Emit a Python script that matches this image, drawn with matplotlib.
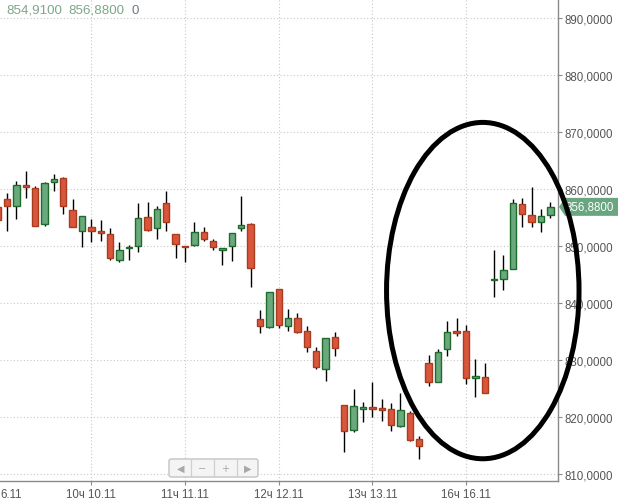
import matplotlib
matplotlib.use("Agg")
import matplotlib.pyplot as plt
import matplotlib.patches as mpatches
import matplotlib.transforms as mtransforms

plt.rcParams['font.family'] = ['Liberation Sans', 'DejaVu Sans']

# ---- data (hourly candles, index = position) ----
opens = [856.8, 858.3, 857.0, 860.8, 860.2, 853.8, 861.2, 862.0, 856.4, 852.6,
         853.3, 852.5, 852.1, 847.5, 849.6, 850.1, 855.1, 853.2, 857.6, 852.1,
         850.0, 850.2, 852.5, 850.9, 849.4, 850.0, 853.1, 853.9, 837.2, 835.8,
         842.5, 836.0, 837.4, 835.1, 831.6, 828.4, 834.0, 822.1, 817.7, 821.5,
         821.7, 821.5, 821.5, 818.5, 820.8, 816.1, 829.5, 826.1, 831.9, 835.0,
         835.2, 826.9, 827.1, 844.0, 844.3, 845.96, 857.4, 855.4, 854.3, 855.4]
highs = [857.6, 859.3, 861.5, 863.2, 860.5, 861.2, 862.7, 862.1, 858.3, 855.3,
         854.8, 854.6, 853.2, 850.8, 850.2, 857.6, 857.8, 857.0, 859.6, 852.1,
         850.0, 854.3, 853.4, 851.3, 849.7, 852.3, 858.7, 854.1, 838.8, 841.9,
         842.5, 839.0, 838.3, 836.0, 832.3, 833.9, 834.9, 822.1, 824.9, 822.6,
         826.2, 823.2, 822.5, 824.3, 821.0, 816.7, 830.9, 831.9, 836.8, 837.4,
         836.1, 830.2, 829.5, 849.3, 848.4, 858.2, 858.5, 860.3, 856.5, 857.7]
lows = [853.6, 852.6, 854.8, 858.5, 853.6, 853.6, 859.7, 855.6, 853.3, 849.8,
        850.8, 850.9, 847.5, 847.2, 847.5, 849.0, 852.7, 851.2, 852.6, 847.9,
        847.2, 850.1, 850.9, 849.4, 846.6, 847.3, 852.6, 842.9, 834.8, 835.6,
        835.7, 835.1, 834.7, 831.5, 828.4, 826.3, 830.8, 813.9, 817.4, 819.2,
        820.1, 819.4, 817.6, 818.2, 815.9, 812.6, 825.5, 826.1, 830.8, 834.3,
        825.8, 823.6, 824.2, 841.0, 842.3, 845.96, 853.4, 853.4, 852.4, 855.0]
closes = [854.5, 857.1, 860.8, 860.3, 853.6, 861.1, 861.8, 857.0, 853.3, 855.3,
          852.7, 852.3, 847.9, 849.4, 849.9, 854.9, 852.9, 856.5, 854.3, 850.3,
          849.8, 852.5, 851.2, 849.8, 849.7, 852.3, 853.7, 846.1, 836.0, 841.9,
          836.1, 837.4, 835.0, 832.3, 828.8, 833.9, 832.1, 817.5, 821.9, 821.7,
          821.5, 821.3, 818.7, 821.2, 816.0, 815.0, 826.25, 831.5, 834.85, 834.8,
          826.8, 827.25, 824.3, 844.2, 845.8, 857.5, 855.6, 854.3, 855.2, 856.88]

day_tick_pos = [10, 20, 30, 40, 50]
day_tick_labels = ["10ч 10.11", "11ч 11.11", "12ч 12.11", "13ч 13.11", "16ч 16.11"]
first_partial_label = "6.11"
y_ticks = [810, 820, 830, 840, 850, 860, 870, 880, 890]
y_tick_labels = [f"{v:.4f}".replace('.', ',') for v in y_ticks]
header_values = ["854,9100", "856,8800", "0"]
last_price = closes[-1]

# ---- styling ----
RED_FILL, RED_EDGE = '#d9553b', '#a83c1f'
GRN_FILL, GRN_EDGE = '#6aa97c', '#1f6b2d'
W, H = 618, 502

fig = plt.figure(figsize=(W / 100, H / 100), dpi=100)
ax = fig.add_axes([0, 20 / H, 558 / W, 482 / H])

x = list(range(len(opens)))
ax.vlines(x, lows, highs, color='black', lw=1.0, zorder=2)
for i, (o, c) in enumerate(zip(opens, closes)):
    up = c >= o
    bottom = min(o, c)
    height = max(abs(c - o), 0.3)
    ax.bar(i, height, bottom=bottom, width=0.68,
           color=GRN_FILL if up else RED_FILL,
           edgecolor=GRN_EDGE if up else RED_EDGE, lw=1.0, zorder=3)

ax.set_xlim(0.246, 59.82)
ax.set_ylim(808.81, 893.33)

ax.set_xticks(day_tick_pos)
ax.set_xticklabels(day_tick_labels)
ax.set_yticks(y_ticks)
ax.set_yticklabels(y_tick_labels)
ax.yaxis.tick_right()

ax.grid(True, linestyle=(0, (1, 2)), color='#c8c8c8', lw=0.8, zorder=0)
ax.set_axisbelow(True)

for s in ['top', 'left']:
    ax.spines[s].set_visible(False)
for s in ['right', 'bottom']:
    ax.spines[s].set_color('#8a8a8a')
    ax.spines[s].set_linewidth(1.0)

ax.tick_params(axis='both', direction='out', length=3, color='#8a8a8a',
               labelsize=8.3, labelcolor='#555555')
ax.tick_params(axis='y', pad=2)
ax.tick_params(axis='x', pad=2)

# partial first date label at left edge (aligned like the tick labels)
lbl_offset = mtransforms.offset_copy(ax.transAxes, fig=fig, x=0, y=-(3 + 2), units='points')
ax.text(0, 0, first_partial_label, transform=lbl_offset, ha='left', va='top',
        fontsize=8.3, color='#555555', clip_on=False)

# header values
hx = [6.5, 68, 131]
hcol = ['#7ea68a', '#7ea68a', '#6a7a8c']
for xp, txt, col in zip(hx, header_values, hcol):
    fig.text(xp / W, 1 - 10.5 / H, txt, ha='left', va='center', fontsize=9.6, color=col)

# current price label
blend = mtransforms.blended_transform_factory(ax.transAxes, ax.transData)
h = 9 / 5.709
xr = 1 / 558
poly = mpatches.Polygon([(559 * xr, last_price), (565 * xr, last_price + h),
                         (620 * xr, last_price + h), (620 * xr, last_price - h),
                         (565 * xr, last_price - h)],
                        closed=True, transform=blend, clip_on=False,
                        facecolor='#69a67f', edgecolor='none', zorder=6)
ax.add_patch(poly)
ax.text(566 * xr, last_price, f"{last_price:.4f}".replace('.', ','),
        transform=blend, ha='left', va='center', fontsize=8.3, color='white',
        clip_on=False, zorder=7)

# hand-drawn ellipse annotation
ell = mpatches.Ellipse((51.79, 842.2), 20.55, 58.98, fill=False, lw=3.6,
                       ec='black', clip_on=False, zorder=8)
ax.add_patch(ell)

# navigation widget
def fx(px):
    return px / W

def fy(py):
    return 1 - py / H

box = mpatches.FancyBboxPatch((fx(169), fy(478)), fx(258) - fx(169), fy(460) - fy(478),
                              boxstyle="round,pad=0,rounding_size=0.004",
                              transform=fig.transFigure, facecolor='#f4f4f4',
                              edgecolor='#c4c4c4', lw=1.0, zorder=9)
fig.add_artist(box)
for dx in [191, 214, 237]:
    fig.add_artist(plt.Line2D([fx(dx), fx(dx)], [fy(461), fy(477)],
                              transform=fig.transFigure, color='#cfcfcf', lw=0.9, zorder=10))
for sx, sym in zip([181, 202.5, 225.5, 247.5], ['◀', '−', '+', '▶']):
    fig.text(fx(sx), fy(469), sym, ha='center', va='center', fontsize=7,
             color='#a8a8a8', family=['DejaVu Sans'], zorder=11)

fig.savefig('out.png', dpi=100, facecolor='white')
